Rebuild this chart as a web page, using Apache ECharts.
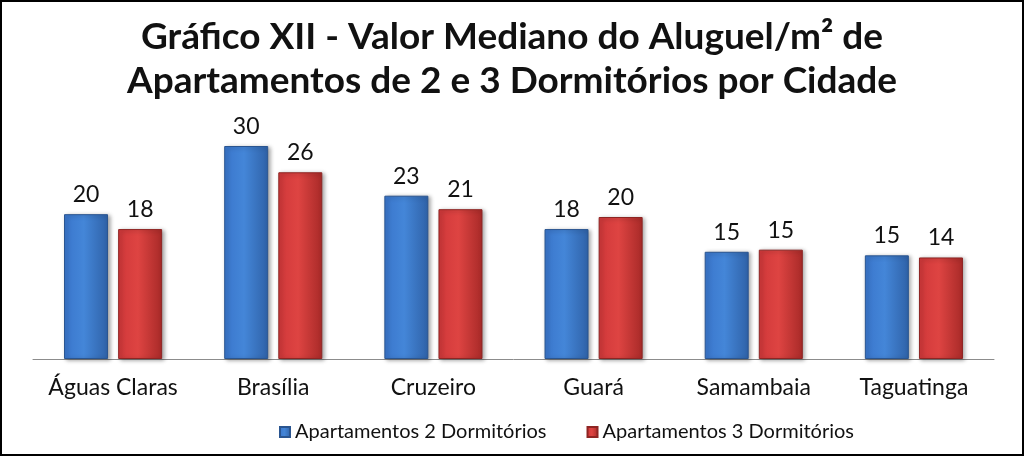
<!DOCTYPE html>
<html>
<head>
<meta charset="utf-8">
<script src="https://cdn.jsdelivr.net/npm/echarts@6/dist/echarts.min.js"></script>
<style>
html,body{margin:0;padding:0;background:#fff;}
#wrap{position:relative;width:1024px;height:456px;}
#chart{width:1024px;height:456px;}
#frame{position:absolute;left:0;top:0;width:1024px;height:456px;box-sizing:border-box;border:2px solid #000;pointer-events:none;}
</style>
</head>
<body>
<div id="wrap"><div id="chart"></div><div id="frame"></div></div>
<script>
const titleLines = ['Gráfico XII - Valor Mediano do Aluguel/m² de', 'Apartamentos de 2 e 3 Dormitórios por Cidade'];
const categories = ['Águas Claras', 'Brasília', 'Cruzeiro', 'Guará', 'Samambaia', 'Taguatinga'];
const seriesNames = ['Apartamentos 2 Dormitórios', 'Apartamentos 3 Dormitórios'];
const dorm2 = [20.4, 30.0, 23.0, 18.3, 15.1, 14.6];
const dorm3 = [18.3, 26.3, 21.1, 20.0, 15.4, 14.3];

const FONT = 'Lato, "Open Sans", sans-serif';

function grad(c0, c1, c2) {
  return new echarts.graphic.LinearGradient(0, 0, 1, 0, [
    {offset: 0, color: c0}, {offset: 0.45, color: c1}, {offset: 1, color: c2}
  ]);
}

const chart = echarts.init(document.getElementById('chart'), null, {renderer: 'canvas'});
chart.setOption({
  animation: false,
  backgroundColor: '#fff',
  title: {
    text: titleLines.join('\n'),
    left: 'center',
    top: 10,
    textStyle: {fontFamily: FONT, fontWeight: 'bold', fontSize: 37, lineHeight: 44, color: '#111'}
  },
  legend: {
    data: seriesNames,
    bottom: 9,
    left: 274,
    itemWidth: 10,
    itemHeight: 10,
    itemGap: 40,
    icon: 'rect',
    textStyle: {fontFamily: FONT, fontSize: 20, color: '#111'}
  },
  grid: {left: 33, right: 30, top: 75, bottom: 97},
  xAxis: {
    type: 'category',
    data: categories,
    axisLine: {lineStyle: {color: '#8c8c8c', width: 1}},
    axisTick: {show: false},
    axisLabel: {interval: 0, fontFamily: FONT, fontSize: 23, color: '#111', margin: 17}
  },
  yAxis: {
    type: 'value', min: 0, max: 40, show: false,
    splitLine: {show: false}
  },
  series: [
    {
      name: seriesNames[0], type: 'bar', data: dorm2,
      barWidth: 44, barGap: '23%',
      itemStyle: {
        color: grad('#3a76cc', '#4486d8', '#2f62a8'),
        borderColor: '#2a5590', borderWidth: 1,
        shadowColor: 'rgba(0,0,0,0.35)', shadowBlur: 4, shadowOffsetX: 2, shadowOffsetY: 1
      },
      label: {show: true, position: 'top', distance: 8, fontFamily: FONT, fontSize: 23, color: '#111',
        formatter: p => Math.round(p.value)}
    },
    {
      name: seriesNames[1], type: 'bar', data: dorm3,
      barWidth: 44,
      itemStyle: {
        color: grad('#d0383a', '#de4442', '#a82a28'),
        borderColor: '#8e2523', borderWidth: 1,
        shadowColor: 'rgba(0,0,0,0.35)', shadowBlur: 4, shadowOffsetX: 2, shadowOffsetY: 1
      },
      label: {show: true, position: 'top', distance: 8, fontFamily: FONT, fontSize: 23, color: '#111',
        formatter: p => Math.round(p.value)}
    }
  ]
});
</script>
</body>
</html>
